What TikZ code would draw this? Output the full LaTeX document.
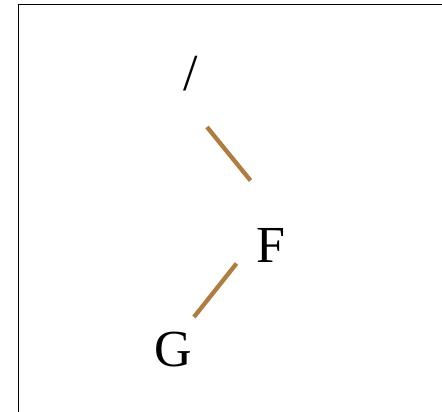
\documentclass[tikz,border=0pt]{standalone}
\usepackage{fontspec}
\setmainfont{Liberation Serif}
\begin{document}
\begin{tikzpicture}[x=1pt,y=-1pt,
  lbl/.style={inner sep=0pt,anchor=base west,font=\fontsize{52}{60}\selectfont},
  edge/.style={draw={rgb,255:red,176;green,124;blue,64},line width=4.3pt}]
\clip (0,0) rectangle (442,412);
\draw[line width=1.8pt] (18.5,4.5) rectangle (470,440);
\node[lbl] (root) at (183.5,91) {/};
\node[lbl] (F) at (256.4,262) {F};
\node[lbl] (G) at (154.5,366) {G};
\coordinate (e1a) at (207,127);
\coordinate (e1b) at (250.5,180.5);
\coordinate (e2a) at (236.5,263.5);
\coordinate (e2b) at (194,317);
\draw[edge] (e1a) -- (e1b);
\draw[edge] (e2a) -- (e2b);
\end{tikzpicture}
\end{document}
